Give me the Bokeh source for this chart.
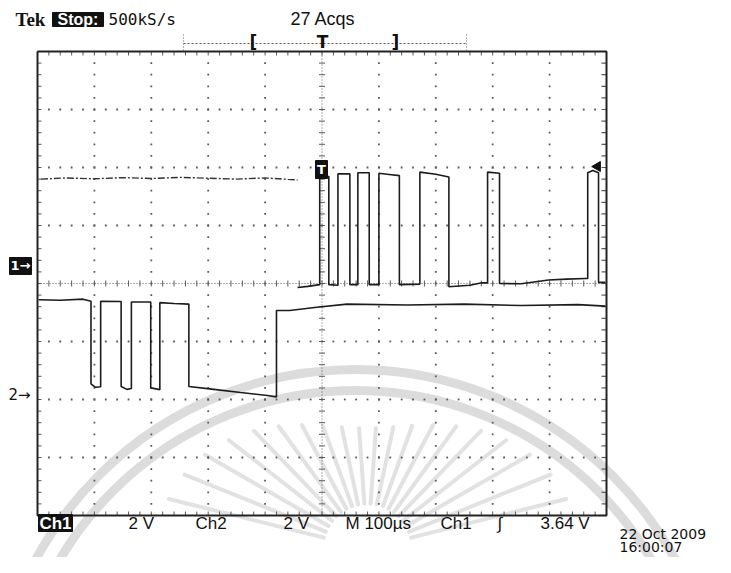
import numpy as np
from bokeh.plotting import figure
from bokeh.models import Range1d
from bokeh.core.properties import value
from bokeh.embed import file_html
from bokeh.resources import INLINE

# ---------------- data ----------------
TIME_PER_DIV_US = 100.0
CH1_V_PER_DIV = 2.0
CH2_V_PER_DIV = 2.0
CH1_POS_DIV = 0.31      # Ch1 ground marker position (divisions from centre)
CH2_POS_DIV = -1.93     # Ch2 ground marker position

# Ch1, pre-trigger (faint, broken) part
CH1_PRE_T = [-494, -450, -400, -350, -300, -250, -200, -150, -100, -60, -43]
CH1_PRE_V = [2.98, 3.02, 2.99, 3.03, 3.00, 3.04, 3.01, 2.98, 3.02, 2.97, 2.95]

# Ch1, main trace (time in us, level in V)
CH1_T = [-43, -25, -4, -4, 12, 12, 28, 28, 49, 49, 63, 63, 83, 83, 100, 100, 118,
         136, 136, 172, 172, 200, 223, 223, 260, 279, 291, 291, 312, 312, 350,
         398, 430, 463, 467, 467, 476, 486, 486, 498]
CH1_V = [-0.76, -0.72, -0.66, 3.07, 3.07, -0.66, -0.68, 3.16, 3.16, -0.66, -0.66,
         3.20, 3.20, -0.66, -0.66, 3.18, 3.14, 3.10, -0.66, -0.64, 3.22, 3.15,
         3.05, -0.73, -0.68, -0.60, -0.60, 3.22, 3.18, -0.62, -0.63, -0.50,
         -0.47, -0.45, -0.45, 3.20, 3.28, 3.20, -0.58, -0.58]

# Ch2 trace
CH2_T = [-498, -460, -420, -406, -406, -398, -389, -389, -353, -353, -343, -335,
         -335, -301, -301, -285, -285, -260, -234, -234, -190, -143, -96, -80,
         -80, -57, -9, 44, 150, 250, 350, 450, 498]
CH2_V = [3.30, 3.28, 3.32, 3.25, 0.40, 0.28, 0.30, 3.25, 3.24, 0.31, 0.21, 0.24,
         3.22, 3.22, 0.26, 0.20, 3.20, 3.17, 3.15, 0.31, 0.21, 0.10, 0.00, -0.05,
         2.93, 2.93, 3.04, 3.15, 3.12, 3.15, 3.10, 3.13, 3.08]

HEADER_TEK = "Tek"
HEADER_STATE = "Stop:"
HEADER_RATE = "500kS/s"
HEADER_ACQS = "27 Acqs"
BOTTOM_LABELS = ["2 V", "Ch2", "2 V", "M 100\u00b5s", "Ch1", "\u222b", "3.64 V"]
BOTTOM_LABEL_X = [128, 195, 283, 345, 440, 497, 540]
DATE_TEXT = "22 Oct 2009"
TIME_TEXT = "16:00:07"

# ---------------- geometry ----------------
W, H = 715, 557
ORIGIN = 0
FR_L, FR_R, FR_T, FR_B = 37, 606, 51, 515      # frame in picture pixels
PXX = (FR_R - FR_L) / 10.0
PXY = (FR_B - FR_T) / 8.0
CX = (FR_L + FR_R) / 2.0
CY = (FR_T + FR_B) / 2.0


def X(wx):
    return (wx - CX) / PXX * TIME_PER_DIV_US


def Y(wy):
    return (CY - wy) / PXY


def dx(px):
    return px / PXX * TIME_PER_DIV_US


def dy(px):
    return px / PXY


p = figure(width=W, height=H, x_range=Range1d(X(ORIGIN), X(ORIGIN + W)),
           y_range=Range1d(Y(ORIGIN + H), Y(ORIGIN)),
           x_axis_type=None, y_axis_type=None, min_border=0,
           toolbar_location=None, output_backend="svg",
           background_fill_color="white", border_fill_color="white",
           outline_line_color=None)
p.grid.visible = False

# ---------------- watermark ----------------
WM = "#dcdcdc"
for r in (364, 343):
    p.arc(x=[X(355)], y=[Y(733)], radius=r, radius_units="screen",
          start_angle=0.0, end_angle=np.pi, line_width=9, line_color=WM)
ang = np.deg2rad(np.arange(14, 170, 8))
r_in = 45.0
r_out = 120.0 + 90.0 * np.cos(ang) ** 2
rcx, rcy = 367, 548
p.segment(x0=X(rcx) + dx(r_in * np.cos(ang)), y0=Y(rcy) + dy(r_in * np.sin(ang)),
          x1=X(rcx) + dx(r_out * np.cos(ang)), y1=Y(rcy) + dy(r_out * np.sin(ang)),
          line_width=4, line_color="#e2e2e2", line_cap="round")

# ---------------- graticule ----------------
GRID = "#5a5a5a"
xf = np.arange(-500, 500.1, 20.0)
yf = np.round(np.arange(-4, 4.001, 0.2), 3)
gx, gy = [], []
for xm in [-400, -300, -200, -100, 100, 200, 300, 400]:
    for yy in yf[1:-1]:
        gx.append(xm); gy.append(yy)
for ym in [-3, -2, -1, 1, 2, 3]:
    for xx in xf[1:-1]:
        gx.append(xx); gy.append(ym)
p.scatter(gx, gy, marker="square", size=1.8, color=GRID, line_color=None)

# centre lines
p.segment(x0=[-500], y0=[0], x1=[500], y1=[0], line_color=GRID, line_width=1,
          line_dash="1 2")
p.segment(x0=[0], y0=[-4], x1=[0], y1=[4], line_color=GRID, line_width=1,
          line_dash="1 2")
p.segment(x0=xf, y0=-dy(3), x1=xf, y1=dy(3), line_color=GRID, line_width=1)
p.segment(x0=-dx(3), y0=yf, x1=dx(3), y1=yf, line_color=GRID, line_width=1)

# border ticks
p.segment(x0=xf, y0=4, x1=xf, y1=4 - dy(4), line_color=GRID, line_width=1)
p.segment(x0=xf, y0=-4, x1=xf, y1=-4 + dy(4), line_color=GRID, line_width=1)
p.segment(x0=-500, y0=yf, x1=-500 + dx(4), y1=yf, line_color=GRID, line_width=1)
p.segment(x0=500, y0=yf, x1=500 - dx(5), y1=yf, line_color=GRID, line_width=1.2)

# frame
p.line([-500, 500, 500, -500, -500], [4, 4, -4, -4, 4], line_color="#222222",
       line_width=2)

# ---------------- traces ----------------
TRACE = "#1c1c1c"
ch1_pre_y = [v / CH1_V_PER_DIV + CH1_POS_DIV for v in CH1_PRE_V]
ch1_y = [v / CH1_V_PER_DIV + CH1_POS_DIV for v in CH1_V]
ch2_y = [v / CH2_V_PER_DIV + CH2_POS_DIV for v in CH2_V]
p.line(CH1_PRE_T, ch1_pre_y, line_color="#333333", line_width=1.4,
       line_dash="7 2 2 2")
p.line(CH1_T, ch1_y, line_color=TRACE, line_width=1.6)
p.line(CH2_T, ch2_y, line_color=TRACE, line_width=1.6)

# ---------------- markers ----------------
# Ch1 marker box
p.quad(left=[X(9)], right=[X(31)], top=[Y(257)], bottom=[Y(274)], color="#111111")
p.text(x=[X(20)], y=[CH1_POS_DIV], text=["1\u2192"], text_color="white",
       text_align="center", text_baseline="middle",
       text_font=value("DejaVu Sans"), text_font_style="bold",
       text_font_size=value("13px"))
p.text(x=[X(8)], y=[CH2_POS_DIV], text=["2\u2192"], text_color="#111111",
       text_align="left", text_baseline="middle",
       text_font=value("DejaVu Sans"), text_font_size=value("15px"))
# trigger position box
p.quad(left=[X(315)], right=[X(327)], top=[Y(160)], bottom=[Y(178)], color="#111111")
p.text(x=[X(321)], y=[Y(169)], text=["T"], text_color="white",
       text_align="center", text_baseline="middle",
       text_font=value("DejaVu Sans"), text_font_style="bold",
       text_font_size=value("13px"))
# trigger level arrow
p.scatter([X(597)], [Y(166)], marker="triangle", size=10, angle=np.pi / 2,
          color="#111111")

# ---------------- header ----------------
p.text(x=[X(15)], y=[Y(19)], text=[HEADER_TEK], text_color="#111111",
       text_align="left", text_baseline="middle",
       text_font=value("Liberation Serif"), text_font_style="bold",
       text_font_size=value("19px"))
p.quad(left=[X(52)], right=[X(103)], top=[Y(12)], bottom=[Y(26)], color="#111111")
p.text(x=[X(77.5)], y=[Y(19)], text=[HEADER_STATE], text_color="white",
       text_align="center", text_baseline="middle",
       text_font=value("Liberation Sans"), text_font_style="bold",
       text_font_size=value("16px"))
p.text(x=[X(108)], y=[Y(19)], text=[HEADER_RATE], text_color="#111111",
       text_align="left", text_baseline="middle",
       text_font=value("DejaVu Sans Mono"), text_font_size=value("16px"))
p.text(x=[X(290)], y=[Y(18)], text=[HEADER_ACQS], text_color="#111111",
       text_align="left", text_baseline="middle",
       text_font=value("Liberation Sans"), text_font_size=value("18px"))

# record-length bar
p.segment(x0=[X(183)], y0=[Y(43)], x1=[X(466)], y1=[Y(43)], line_color="#555555",
          line_width=1, line_dash="2 2")
p.segment(x0=[X(183), X(466)], y0=[Y(34), Y(34)], x1=[X(183), X(466)],
          y1=[Y(52), Y(52)], line_color="#666666", line_width=1, line_dash="1 2")
p.text(x=[X(253), X(322), X(395)], y=[Y(41)] * 3, text=["[", "T", "]"],
       text_color="#111111", text_align="center", text_baseline="middle",
       text_font=value("DejaVu Sans"), text_font_style="bold",
       text_font_size=value("17px"))

# ---------------- bottom read-out ----------------
p.quad(left=[X(38)], right=[X(72)], top=[Y(514)], bottom=[Y(531)], color="#111111")
p.text(x=[X(55)], y=[Y(523)], text=["Ch1"], text_color="white",
       text_align="center", text_baseline="middle",
       text_font=value("Liberation Sans"), text_font_style="bold",
       text_font_size=value("17px"))
p.text(x=[X(v) for v in BOTTOM_LABEL_X], y=[Y(523)] * len(BOTTOM_LABELS),
       text=BOTTOM_LABELS, text_color="#111111", text_align="left",
       text_baseline="middle", text_font=value("Liberation Sans"),
       text_font_size=value("17px"))
p.text(x=[X(619), X(619)], y=[Y(533), Y(546)], text=[DATE_TEXT, TIME_TEXT],
       text_color="#111111", text_align="left", text_baseline="middle",
       text_font=value("DejaVu Sans"), text_font_size=value("14px"))

open("out.html", "w").write(file_html(p, INLINE))
